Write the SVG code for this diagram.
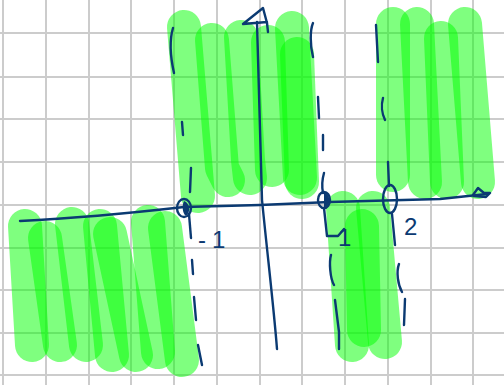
<svg xmlns="http://www.w3.org/2000/svg" width="504" height="385" viewBox="0 0 504 385">
<style>
.grid line{stroke:#cccccc;stroke-width:2}
.hl{fill:none;stroke:#00ff00;stroke-opacity:0.5;stroke-width:34;stroke-linecap:round;stroke-linejoin:round}
.ink{fill:none;stroke:#0b3a72;stroke-width:2.4;stroke-linecap:round;stroke-linejoin:round}
.lbl{font-family:"Liberation Sans",Arial,sans-serif;font-size:24px;fill:#0b3a72}
</style>
<rect width="504" height="385" fill="#ffffff"/>
<g class="grid">
<line x1="3" y1="0" x2="3" y2="385"/><line x1="46" y1="0" x2="46" y2="385"/><line x1="89" y1="0" x2="89" y2="385"/><line x1="131" y1="0" x2="131" y2="385"/><line x1="174" y1="0" x2="174" y2="385"/><line x1="217" y1="0" x2="217" y2="385"/><line x1="260" y1="0" x2="260" y2="385"/><line x1="302" y1="0" x2="302" y2="385"/><line x1="345" y1="0" x2="345" y2="385"/><line x1="388" y1="0" x2="388" y2="385"/><line x1="431" y1="0" x2="431" y2="385"/><line x1="473" y1="0" x2="473" y2="385"/>
<line x1="0" y1="33" x2="504" y2="33"/><line x1="0" y1="77" x2="504" y2="77"/><line x1="0" y1="119" x2="504" y2="119"/><line x1="0" y1="162" x2="504" y2="162"/><line x1="0" y1="205" x2="504" y2="205"/><line x1="0" y1="248" x2="504" y2="248"/><line x1="0" y1="290" x2="504" y2="290"/><line x1="0" y1="333" x2="504" y2="333"/><line x1="0" y1="375" x2="504" y2="375"/>
</g>
<g id="shading">
<path class="hl" d="M184,27 L198,196"/>
<path class="hl" d="M212,40 L222,168 L228,180"/>
<path class="hl" d="M241,37 L248,160 L250,178"/>
<path class="hl" d="M268,42 L272,170"/>
<path class="hl" d="M292,28 L300,178"/>
<path class="hl" d="M297,54 L302,182"/>
<path class="hl" d="M393,24 L393,175"/>
<path class="hl" d="M417,24 L425,182"/>
<path class="hl" d="M465,24 L478,182"/>
<path class="hl" d="M441,38 L447,182" stroke-linecap="butt"/>
<path class="hl" d="M25,226 L32,345"/>
<path class="hl" d="M45,238 L60,345"/>
<path class="hl" d="M72,224 L86,345"/>
<path class="hl" d="M100,226 L112,355"/>
<path class="hl" d="M110,234 L136,355"/>
<path class="hl" d="M148,222 L158,352"/>
<path class="hl" d="M165,228 L182,360"/>
<path class="hl" d="M343,208 L352,345"/>
<path class="hl" d="M373,208 L385,342"/>
<path class="hl" d="M362,226 L364,330" stroke-linecap="butt"/>
</g>
<g id="axes">
<path class="ink" d="M20,221 C80,218 140,212 184,207 L260,205 L330,202 L440,199 L487,194"/>
<path class="ink" d="M473,195 L478,188 L484,193 L490,193 L486,197 L474,196"/>
<path class="ink" d="M257,22 L262,200 C268,260 274,310 277,349"/>
<path class="ink" d="M243,24 L263,8 L267,23 L268,32 M243,24 L267,22"/>
</g>
<g id="dashes">
<path class="ink" d="M173,28 C170,38 170,55 174,73"/>
<path class="ink" d="M182,122 L183,135"/>
<path class="ink" d="M191,168 L190,192"/>
<path class="ink" d="M189,214 L191,238"/>
<path class="ink" d="M192,260 L193,274"/>
<path class="ink" d="M194,297 L196,320"/>
<path class="ink" d="M198,345 L202,365"/>
<path class="ink" d="M313,23 C310,30 310,45 313,57"/>
<path class="ink" d="M318,97 L319,118"/>
<path class="ink" d="M323,135 L323,150"/>
<path class="ink" d="M324,173 C322,180 322,188 323,193"/>
<path class="ink" d="M324,208 L327,236 L338,236 L344,229"/>
<path class="ink" d="M331,255 C329,262 330,278 334,285"/>
<path class="ink" d="M335,300 L339,332 L339,349"/>
<path class="ink" d="M376,25 L378,62"/>
<path class="ink" d="M383,98 C381,105 382,114 385,120"/>
<path class="ink" d="M388,162 L389,186"/>
<path class="ink" d="M392,214 L395,245"/>
<path class="ink" d="M399,264 C396,272 398,285 402,292"/>
<path class="ink" d="M405,299 L404,325"/>
</g>
<g id="points">
<ellipse class="ink" cx="184" cy="208" rx="7" ry="9"/>
<path d="M184,201 C190,203 191,212 186,216 C182,213 182,205 184,201 Z" fill="#0b3a72"/>
<ellipse class="ink" cx="324" cy="200" rx="6" ry="8"/>
<path d="M324,192 C331,195 331,205 324,208 Z" fill="#0b3a72"/>
<ellipse class="ink" cx="390" cy="199" rx="7" ry="14"/>
</g>
<g id="labels">
<text class="lbl" x="198" y="248">-<tspan dx="6">1</tspan></text>
<text class="lbl" x="338" y="246">1</text>
<text class="lbl" x="404" y="235">2</text>
</g>
</svg>
